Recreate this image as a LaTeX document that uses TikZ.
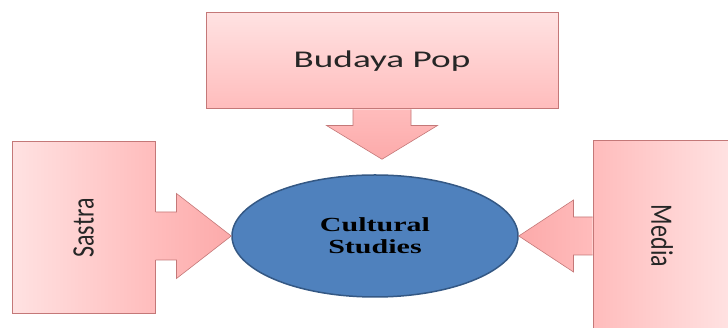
\documentclass[tikz,border=0pt]{standalone}
\usepackage{fontspec}
\usepackage{graphicx}
\setmainfont{Carlito}
\newfontfamily\timesfont{Liberation Serif}
\usetikzlibrary{calc,shapes.geometric}

\definecolor{boxlight}{RGB}{255,226,226}
\definecolor{boxdark}{RGB}{255,188,188}
\definecolor{arrowpink}{RGB}{252,170,170}
\definecolor{rimred}{RGB}{196,120,120}
\definecolor{csblue}{RGB}{79,129,189}
\definecolor{csrim}{RGB}{52,88,132}

\begin{document}
\begin{tikzpicture}[x=1pt,y=1pt]
        % Define styles for the boxes and the pointers
        \tikzstyle{topicbox}=[rectangle,draw=rimred,line width=1pt,inner sep=0pt,text=black!85,font=\fontsize{24}{28}\selectfont]
        \tikzstyle{pointer}=[draw=rimred,line width=0.6pt,line join=miter]
        \useasboundingbox (0,0) rectangle (728,328);

        % Draw the centre ellipse
        \node[ellipse,draw=csrim,line width=1.5pt,fill=csblue,minimum width=286,minimum height=122,
              align=center,font=\timesfont\bfseries\fontsize{20}{22}\selectfont] (cs) at (375,92)
              {\scalebox{1.5}[1]{Cultural}\\\scalebox{1.5}[1]{Studies}};

        % Draw the three boxes
        \node[topicbox,top color=boxlight,bottom color=boxdark,minimum width=352,minimum height=96] (pop) at (382,267)
              {\raisebox{3pt}{\scalebox{1.55}[1]{Budaya Pop}}};
        \node[topicbox,left color=boxlight,right color=boxdark,minimum width=143,minimum height=172] (sastra) at (83.5,100)
              {\rotatebox{90}{\scalebox{1}[1.3]{Sastra}}};
        \begin{scope}
        \clip (0,0) rectangle (728,328);
        \node[topicbox,left color=boxdark,right color=boxlight,minimum width=138,minimum height=190] (media) at (662,92)
              {\rotatebox{-90}{\scalebox{1}[1.3]{Media}}};
        \end{scope}

        % Connect the boxes to the ellipse
        \coordinate (popTip) at ($(pop.south |- cs.north)+(0,15)$);
        \draw[pointer,top color=boxdark,bottom color=arrowpink]
              ($(pop.south)+(-29,0)$) -- ++(0,-16) -- ++(-26.5,0) -- (popTip)
              -- ($(pop.south)+(55.5,-16)$) -- ++(-26.5,0) -- ++(0,16);
        \draw[pointer,left color=boxdark,right color=arrowpink]
              ($(sastra.east |- cs.west)+(0,24)$) -- ++(21,0) -- ++(0,18.5) -- (cs.west)
              -- ($(sastra.east |- cs.west)+(21,-42.5)$) -- ++(0,18.5) -- ++(-21,0);
        \draw[pointer,right color=boxdark,left color=arrowpink]
              ($(media.west |- cs.east)+(0,19)$) -- ++(-19,0) -- ++(0,17) -- (cs.east)
              -- ($(media.west |- cs.east)+(-19,-36)$) -- ++(0,17) -- ++(19,0);
\end{tikzpicture}
\end{document}
